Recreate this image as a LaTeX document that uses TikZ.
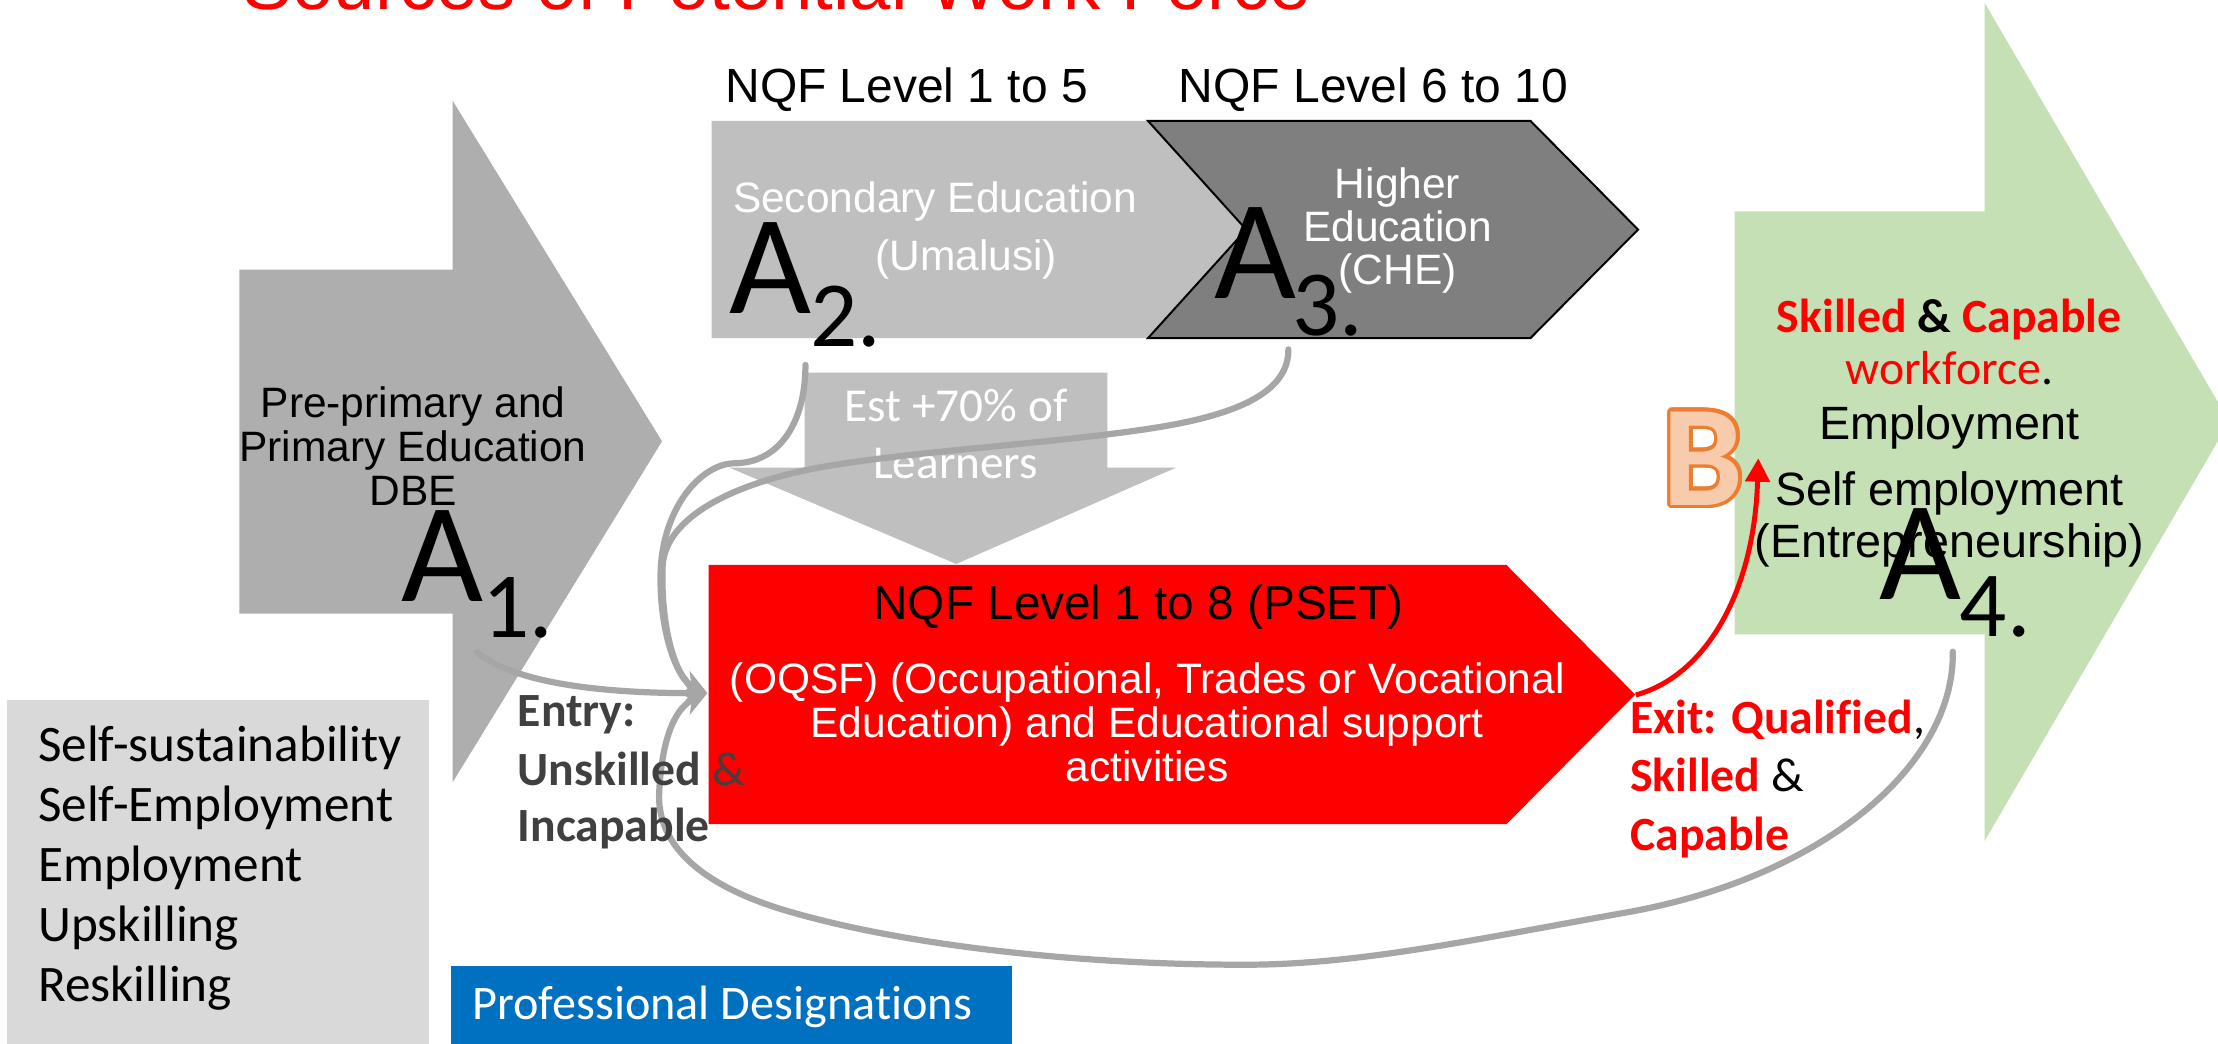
\documentclass[tikz,border=0pt]{standalone}
\usepackage{fontspec}
\setmainfont{Liberation Sans}
\newfontfamily\calib[Ligatures=NoCommon]{Carlito}
\usepackage{contour}
\contourlength{1.5pt}
\usetikzlibrary{arrows.meta}
\definecolor{gA}{HTML}{AEAEAE}
\definecolor{gB}{HTML}{BFBFBF}
\definecolor{gC}{HTML}{7F7F7F}
\definecolor{gD}{HTML}{D9D9D9}
\definecolor{gline}{HTML}{A6A6A6}
\definecolor{greenA}{HTML}{C5E0B4}
\definecolor{blueA}{HTML}{0070C0}
\definecolor{redA}{HTML}{FF0000}
\definecolor{dgray}{HTML}{404040}
\definecolor{peach}{HTML}{F8CBAD}
\definecolor{orng}{HTML}{ED7D31}
\newcommand\fsz[1]{\fontsize{#1}{#1}\selectfont}
\begin{document}
\begin{tikzpicture}[x=0.02cm,y=-0.02cm,
  t/.style={inner sep=0pt,outer sep=0pt,anchor=base},
  tw/.style={inner sep=0pt,outer sep=0pt,anchor=base west},
  conn/.style={draw=gline,line width=2.5pt,line cap=round,-{Stealth[length=10pt,width=10pt]}},
  bigA/.style={inner sep=0pt,outer sep=0pt,anchor=base west,font=\calib\fsz{57pt}},
  subA/.style={inner sep=0pt,outer sep=0pt,anchor=base west,font=\calib\fsz{37.5pt}},
  arial/.style={t,font=\fsz{17.1pt}},
  nqf/.style={t,font=\fsz{19.3pt}},
  callab/.style={tw,font=\calib\bfseries\fsz{19.2pt}},
]
\useasboundingbox (0,0) rectangle (1568,738);
\fill[white] (0,0) rectangle (1568,738);

% shapes
\fill[gD] (5,495) rectangle (303.6,745);
\fill[gA] (169.2,190.6) -- (320,190.6) -- (320,71.2) -- (468,312) -- (320,553) -- (320,433.7) -- (169.2,433.7) -- cycle;
\fill[gB] (503,85.5) -- (811.6,85.5) -- (881,162.3) -- (811.6,239) -- (503,239) -- cycle;
\filldraw[fill=gC,draw=black,line width=0.8pt] (811.6,85.5) -- (1082,85.5) -- (1158,162.3) -- (1082,239) -- (811.6,239) -- (881,162.3) -- cycle;
\fill[gB] (568.8,263.5) -- (782.8,263.5) -- (782.8,330.6) -- (831.3,330.6) -- (676,398.7) -- (515.7,330.6) -- (568.8,330.6) -- cycle;
\fill[redA] (501,399.4) -- (1065,399.4) -- (1156,491) -- (1065,582.6) -- (501,582.6) -- cycle;
\fill[greenA] (1226.3,149.4) -- (1403,149.4) -- (1403,2) -- (1576,298) -- (1403,594.5) -- (1403,448.5) -- (1226.3,448.5) -- cycle;
\fill[blueA] (319,683) rectangle (715.4,745);

% text under connectors
\node[t,font=\calib\fsz{19pt},text=white] (est1) at (676,298) {Est +70\% of};
\node[t,font=\calib\fsz{19pt},text=white] (est2) at (675.5,338) {Learners};

% connectors
\coordinate (tip) at (500,490);
\coordinate (a1o) at (337,461);
\coordinate (a2o) at (569.4,258);
\coordinate (a3o) at (910.8,247);
\coordinate (a4o) at (1380.5,460.7);
\draw[conn] (a1o) .. controls (365,484) and (430,490) .. (tip);
\draw[conn] (a2o) .. controls (569.4,300) and (550,327.5) .. (519,327.5) .. controls (495,328) and (468,360) .. (467,405) .. controls (466,445) and (478,480) .. (tip);
\draw[conn] (a3o) .. controls (911,275) and (880,290) .. (834,299.3) .. controls (770,312) and (650,318) .. (582,330) .. controls (520,341) and (470,365) .. (468.4,400.6) .. controls (467,445) and (478,480) .. (tip);
\draw[conn] (a4o) .. controls (1382,540) and (1290,620) .. (1150,645) .. controls (1040,664.6) and (960,682) .. (880,682) .. controls (760,682) and (640,668) .. (560,645) .. controls (500,628) and (464,600) .. (466,560) .. controls (468,520) and (478,500) .. (tip);
\coordinate (rs) at (1156.4,491.3);
\coordinate (re) at (1243,324);
\draw[redA,line width=2pt,-{Triangle[length=9.4pt,width=9.7pt]}] (rs) .. controls (1205,478) and (1240,420) .. (re);

% texts
\node[t,font=\fsz{29.9pt},text=redA] (title) at (549.3,7) {Sources of Potential Work Force};
\node[nqf] (nqf15) at (641,72.6) {NQF Level 1 to 5};
\node[nqf] (nqf610) at (971,72.6) {NQF Level 6 to 10};
\node[arial,text=white] (sec1) at (661,150) {Secondary Education};
\node[arial,text=white] (sec2) at (683,191) {(Umalusi)};
\node[arial,text=white] (he1) at (988,140) {Higher};
\node[arial,text=white] (he2) at (988,171) {Education};
\node[arial,text=white] (he3) at (988,201) {(CHE)};
\node[arial] (pp1) at (292,295) {Pre-primary and};
\node[arial] (pp2) at (292,326) {Primary Education};
\node[arial] (pp3) at (292,357) {DBE};
\node[t,font=\fsz{19.2pt}] (pset) at (805,438) {NQF Level 1 to 8 (PSET)};
\node[arial,text=white] (oq1) at (811,490) {(OQSF) (Occupational, Trades or Vocational};
\node[arial,text=white] (oq2) at (811,521.5) {Education) and Educational support};
\node[arial,text=white] (oq3) at (811,552.6) {activities};

\foreach \s/\y [count=\i] in {Self-sustainability/538.5,Self-Employment/581,Employment/623,Upskilling/665.7,Reskilling/708}
  \node[tw,font=\calib\fsz{20.6pt}] (ss\i) at (27,\y) {\s};
\node[tw,font=\calib\fsz{19.4pt},text=white] (prof) at (334,721) {Professional Designations};

\node[callab,text=dgray] (en1) at (366,513.7) {Entry:};
\node[callab,text=dgray] (en2) at (366,555) {Unskilled {\mdseries\&}};
\node[callab,text=dgray] (en3) at (366,595) {Incapable};

\node[callab,text=redA] (ex1) at (1152.5,518.4) {Exit: Qualified{\mdseries\color{black},}};
\node[callab,text=redA] (ex2) at (1152.5,559.7) {Skilled {\mdseries\color{black}\&}};
\node[callab,text=redA] (ex3) at (1152.5,601) {Capable};

\node[t,font=\calib\bfseries\fsz{19.2pt}] (gw1) at (1378,235) {\textcolor{redA}{Skilled} \& \textcolor{redA}{Capable}};
\node[t,font=\calib\fsz{19.2pt}] (gw2) at (1378,272) {\textcolor{redA}{workforce}.};
\node[t,font=\fsz{18.8pt}] (gw3) at (1378,310.5) {Employment};
\node[t,font=\fsz{18.8pt}] (gw4) at (1378,357) {Self employment};
\node[t,font=\fsz{18.8pt}] (gw5) at (1378,394) {(Entrepreneurship)};

% big labels
\node[bigA] (a1) at (283.5,425) {A};
\node[subA] (a1s) at (341,451) {1.};
\node[bigA] (a2) at (516,221.5) {A};
\node[subA] (a2s) at (573,245) {2.};
\node[bigA] (a3) at (858.5,210.8) {A};
\node[subA] (a3s) at (913.6,237) {3.};
\node[bigA] (a4) at (1329,424) {A};
\node[subA] (a4s) at (1385.5,450) {4.};
\node[t,font=\calib\bfseries\fsz{58pt}] (B) at (1204,357) {\contour{orng}{\textcolor{peach}{B}}};
\end{tikzpicture}
\end{document}
